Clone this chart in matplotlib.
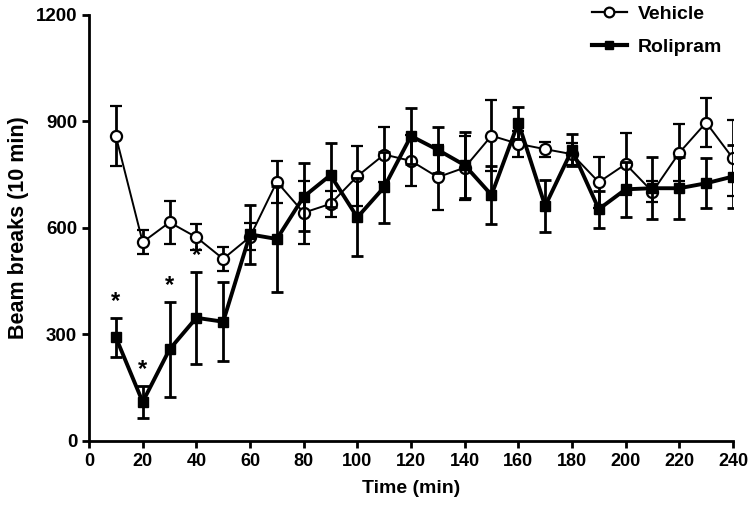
import matplotlib
matplotlib.use("Agg")
import matplotlib.pyplot as plt
from matplotlib.lines import Line2D

plt.rcParams['font.family'] = ['Liberation Sans', 'DejaVu Sans']
plt.rcParams['font.weight'] = 'bold'

# time points (min)
time = [10, 20, 30, 40, 50, 60, 70, 80, 90, 100, 110, 120,
        130, 140, 150, 160, 170, 180, 190, 200, 210, 220, 230, 240]

# vehicle group mean and sem
vehicle = [859, 560, 616, 574, 513, 575, 730, 643, 668, 746, 807, 789,
           743, 770, 860, 837, 822, 808, 729, 780, 702, 812, 897, 796]
vehicle_sem = [84, 33, 61, 36, 34, 38, 60, 88, 37, 85, 78, 72,
               92, 90, 100, 36, 21, 30, 72, 88, 30, 80, 70, 107]

# rolipram group mean and sem
rolipram = [292, 110, 258, 347, 336, 582, 569, 688, 749, 630, 715, 859,
            820, 777, 693, 897, 662, 820, 653, 709, 712, 712, 726, 745]
rolipram_sem = [55, 45, 133, 129, 112, 83, 150, 96, 91, 110, 100, 80,
                65, 92, 83, 45, 73, 45, 52, 77, 88, 87, 70, 88]

# time points with significant difference
signif = [10, 20, 30, 40]

fig = plt.figure(figsize=(7.5, 5.08), dpi=100)
ax = fig.add_axes([0.1187, 0.1319, 0.8586, 0.8386])

ax.errorbar(time, vehicle, yerr=vehicle_sem, color='black', lw=1.4,
            marker='o', ms=8, mfc='white', mec='black', mew=1.6,
            elinewidth=2.0, capsize=4.3, capthick=2.0, zorder=3)
ax.errorbar(time, rolipram, yerr=rolipram_sem, color='black', lw=2.8,
            marker='s', ms=6.5, mfc='black', mec='black',
            elinewidth=2.0, capsize=4.3, capthick=2.0, zorder=4)

for t in signif:
    i = time.index(t)
    ax.text(t, rolipram[i] + rolipram_sem[i] + 14, '*', ha='center', va='bottom',
            fontsize=17, fontweight='bold')

ax.set_xlim(0, 240)
ax.set_ylim(0, 1200)
ax.set_xticks(range(0, 241, 20))
ax.set_yticks([0, 300, 600, 900, 1200])
ax.spines['top'].set_visible(False)
ax.spines['right'].set_visible(False)
ax.spines['left'].set_linewidth(2)
ax.spines['bottom'].set_linewidth(2)
ax.tick_params(direction='out', length=5, width=2, labelsize=13)
for lab in ax.get_xticklabels() + ax.get_yticklabels():
    lab.set_fontweight('bold')
for lab in ax.get_yticklabels():
    lab.set_fontsize(13.5)

ax.set_xlabel('Time (min)', fontsize=14, fontweight='bold', labelpad=7)
ax.set_ylabel('Beam breaks (10 min)', fontsize=15.5, fontweight='bold', labelpad=5)

handles = [Line2D([], [], color='black', lw=1.6, marker='o', ms=7,
                  mfc='white', mec='black', mew=1.6),
           Line2D([], [], color='black', lw=3.0, marker='s', ms=6, mfc='black')]
leg = ax.legend(handles, ['Vehicle', 'Rolipram'], loc='upper right',
                bbox_to_anchor=(1.011, 1.063), frameon=False, fontsize=14,
                handlelength=1.8, handletextpad=0.6, labelspacing=0.78)
for txt in leg.get_texts():
    txt.set_fontweight('bold')

fig.savefig('out.png', dpi=100)
